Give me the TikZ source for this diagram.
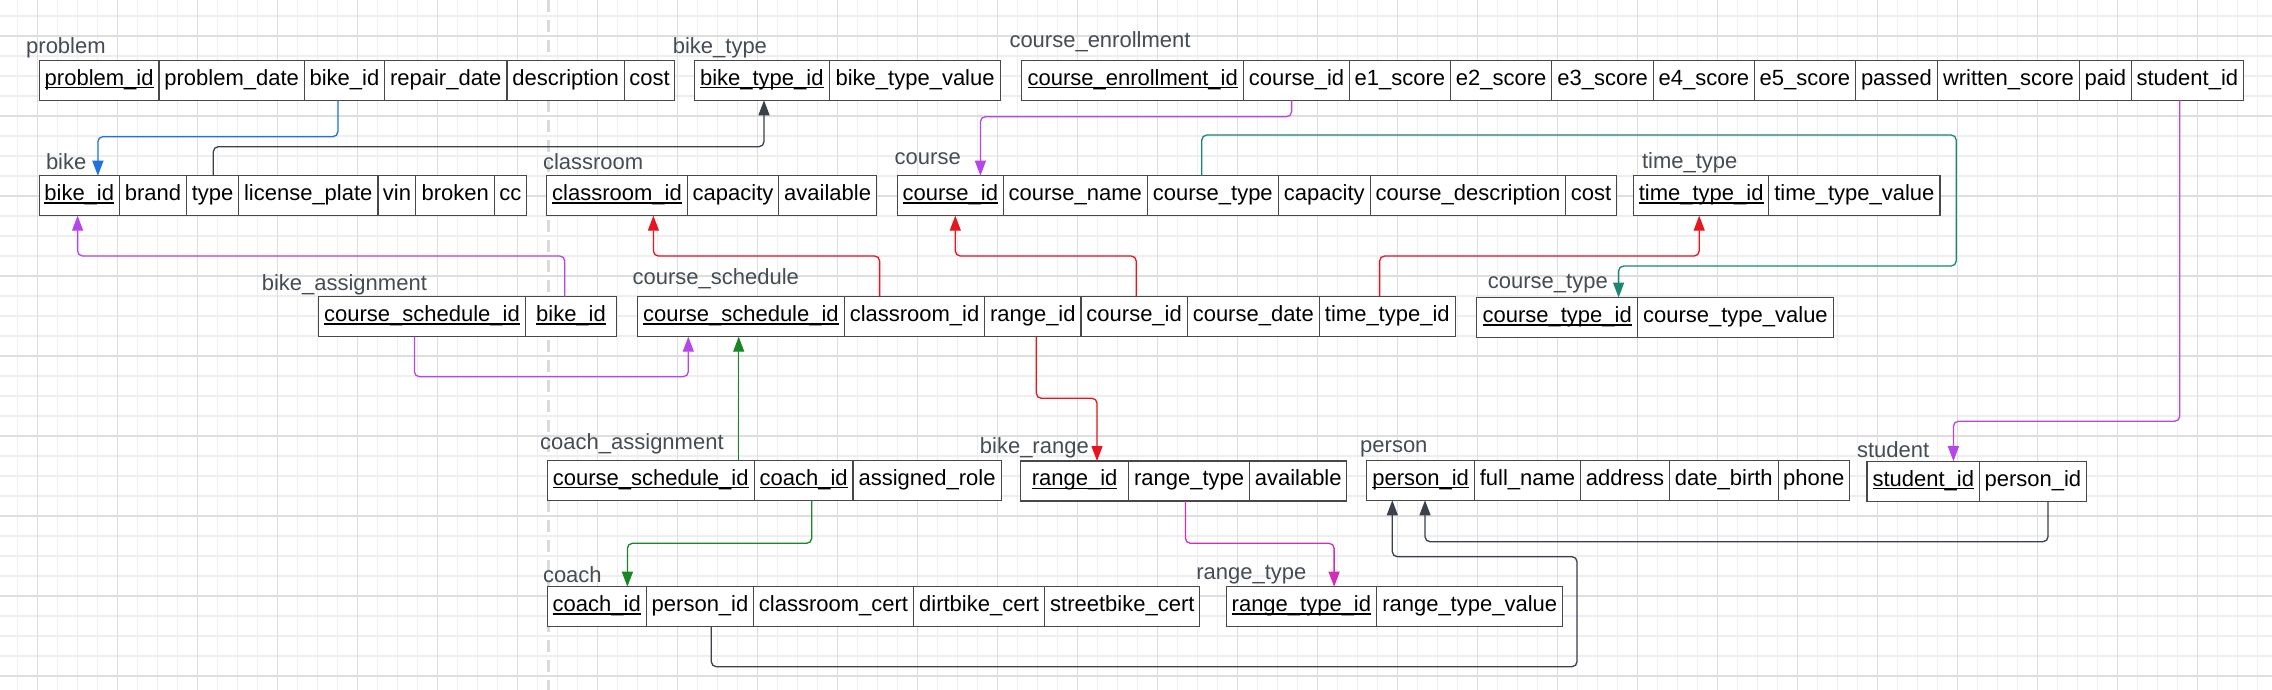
\documentclass[tikz,border=0pt]{standalone}
\usepackage{fontspec}
\setmainfont{Liberation Sans}
\usetikzlibrary{arrows.meta}
\definecolor{gridminor}{RGB}{238,238,238}
\definecolor{gridmajor}{RGB}{222,222,222}
\definecolor{dashgray}{RGB}{218,218,218}
\definecolor{tblborder}{RGB}{72,72,72}
\definecolor{lblgray}{RGB}{70,76,84}
\definecolor{cblue}{RGB}{30,115,225}
\definecolor{cgray}{RGB}{58,65,74}
\definecolor{cpurple}{RGB}{180,70,235}
\definecolor{cteal}{RGB}{25,135,115}
\definecolor{cred}{RGB}{232,20,30}
\definecolor{cgreen}{RGB}{25,135,35}
\definecolor{cmagenta}{RGB}{210,45,180}
\newcommand\bigfont{\fontsize{22pt}{26pt}\selectfont}
\newcommand\pkey[1]{\setbox0=\hbox{#1}\rlap{\rule[-3.2pt]{\wd0}{1.4pt}}\box0}
\newcommand\cellbox[5]{\pgfmathsetmacro\cw{#3-#2}\node[cellst,minimum width=\cw pt,anchor=north west] (#1) at (#2,#4) {#5};}
\tikzset{
  cellst/.style={draw=tblborder, line width=1.1pt, fill=white, minimum height=40pt, inner sep=0pt, outer sep=0pt, text height=15.6pt, text depth=6pt, font=\bigfont, text=black},
  lbl/.style={anchor=base west, inner sep=0pt, outer sep=0pt, font=\bigfont, text=lblgray},
  conn/.style={draw=#1, line width=1.3pt, rounded corners=5pt, -{Triangle[length=15pt,width=11pt]}},
  gridmin/.style={draw=gridminor, line width=1.1pt},
  gridmaj/.style={draw=gridmajor, line width=1.4pt}
}
\begin{document}
\begin{tikzpicture}[x=1pt,y=-1pt]
\useasboundingbox (0,0) rectangle (2272,690);
\fill[white] (0,0) rectangle (2272,690);
% grid
\foreach \k in {0,...,113} {\draw[gridmin] ({17.3+20*\k},0) -- ({17.3+20*\k},690);}
\foreach \k in {0,...,33} {\draw[gridmin] (0,{16+20*\k}) -- (2272,{16+20*\k});}
\foreach \k in {0,...,28} {\draw[gridmaj] ({37.3+80*\k},0) -- ({37.3+80*\k},690);}
\foreach \k in {0,...,8} {\draw[gridmaj] (0,{36+80*\k}) -- (2272,{36+80*\k});}
% dashed divider
\draw[dashgray, line width=3pt, dash pattern=on 12pt off 8pt] (548.5,0) -- (548.5,690);

% labels
\node[lbl] (Lproblem) at (26.2,54) {problem};
\node[lbl] (Lbiketype) at (672.8,54) {bike\_type};
\node[lbl] (Lenroll) at (1009.5,47.5) {course\_enrollment};
\node[lbl] (Lbike) at (46,169.5) {bike};
\node[lbl] (Lclass) at (543,169.5) {classroom};
\node[lbl] (Lcourse) at (894.7,164.8) {course};
\node[lbl] (Ltime) at (1642,168.5) {time\_type};
\node[lbl] (Lbassign) at (261.8,290) {bike\_assignment};
\node[lbl] (Lsched) at (632.6,284.5) {course\_schedule};
\node[lbl] (Lctype) at (1487.9,288.5) {course\_type};
\node[lbl] (Lcassign) at (540.2,449.5) {coach\_assignment};
\node[lbl] (Lrange) at (979.9,453.5) {bike\_range};
\node[lbl] (Lperson) at (1360.2,452.5) {person};
\node[lbl] (Lstudent) at (1857,457.5) {student};
\node[lbl] (Lcoach) at (543,582.5) {coach};
\node[lbl] (Lrtype) at (1196.3,579) {range\_type};

% problem
\cellbox{pb1}{39.3}{159}{60.3}{\pkey{problem\_id}}
\cellbox{pb2}{159}{304.4}{60.3}{problem\_date}
\cellbox{pb3}{304.4}{384.4}{60.3}{bike\_id}
\cellbox{pb4}{384.4}{507}{60.3}{repair\_date}
\cellbox{pb5}{507}{624.3}{60.3}{description}
\cellbox{pb6}{624.3}{674.7}{60.3}{cost}
% bike_type
\cellbox{bt1}{694.2}{829.4}{60.3}{\pkey{bike\_type\_id}}
\cellbox{bt2}{829.4}{1000.8}{60.3}{bike\_type\_value}
% course_enrollment
\cellbox{ce1}{1021.7}{1243.7}{60.3}{\pkey{course\_enrollment\_id}}
\cellbox{ce2}{1243.7}{1349.3}{60.3}{course\_id}
\cellbox{ce3}{1349.3}{1450.5}{60.3}{e1\_score}
\cellbox{ce4}{1450.5}{1551.8}{60.3}{e2\_score}
\cellbox{ce5}{1551.8}{1653.6}{60.3}{e3\_score}
\cellbox{ce6}{1653.6}{1754.3}{60.3}{e4\_score}
\cellbox{ce7}{1754.3}{1855.6}{60.3}{e5\_score}
\cellbox{ce8}{1855.6}{1937.3}{60.3}{passed}
\cellbox{ce9}{1937.3}{2079.5}{60.3}{written\_score}
\cellbox{ce10}{2079.5}{2131.2}{60.3}{paid}
\cellbox{ce11}{2131.2}{2243.5}{60.3}{student\_id}
% bike
\cellbox{bk1}{39.3}{119.2}{175.7}{\pkey{bike\_id}}
\cellbox{bk2}{119.2}{186.6}{175.7}{brand}
\cellbox{bk3}{186.6}{238.5}{175.7}{type}
\cellbox{bk4}{238.5}{378}{175.7}{license\_plate}
\cellbox{bk5}{378}{415.9}{175.7}{vin}
\cellbox{bk6}{415.9}{494.4}{175.7}{broken}
\cellbox{bk7}{494.4}{526.4}{175.7}{cc}
% classroom
\cellbox{cr1}{546.8}{687.2}{175.7}{\pkey{classroom\_id}}
\cellbox{cr2}{687.2}{778.9}{175.7}{capacity}
\cellbox{cr3}{778.9}{876.3}{175.7}{available}
% course
\cellbox{co1}{897.2}{1003.4}{175.7}{\pkey{course\_id}}
\cellbox{co2}{1003.4}{1147.2}{175.7}{course\_name}
\cellbox{co3}{1147.2}{1278.4}{175.7}{course\_type}
\cellbox{co4}{1278.4}{1370.2}{175.7}{capacity}
\cellbox{co5}{1370.2}{1565.7}{175.7}{course\_description}
\cellbox{co6}{1565.7}{1616.4}{175.7}{cost}
% time_type
\cellbox{tt1}{1633.6}{1768.7}{175.7}{\pkey{time\_type\_id}}
\cellbox{tt2}{1768.7}{1940}{175.7}{time\_type\_value}
% bike_assignment
\cellbox{ba1}{318.5}{525.4}{296.7}{\pkey{course\_schedule\_id}}
\cellbox{ba2}{525.4}{616.6}{296.7}{\pkey{bike\_id}}
% course_schedule
\cellbox{cs1}{637.3}{844.5}{296.7}{\pkey{course\_schedule\_id}}
\cellbox{cs2}{844.5}{984.6}{296.7}{classroom\_id}
\cellbox{cs3}{984.6}{1081}{296.7}{range\_id}
\cellbox{cs4}{1081}{1187.3}{296.7}{course\_id}
\cellbox{cs5}{1187.3}{1319.3}{296.7}{course\_date}
\cellbox{cs6}{1319.3}{1455.3}{296.7}{time\_type\_id}
% course_type
\cellbox{ct1}{1476.8}{1637.5}{297.5}{\pkey{course\_type\_id}}
\cellbox{ct2}{1637.5}{1833.3}{297.5}{course\_type\_value}
% coach_assignment
\cellbox{ca1}{547.1}{754.3}{460.3}{\pkey{course\_schedule\_id}}
\cellbox{ca2}{754.3}{853}{460.3}{\pkey{coach\_id}}
\cellbox{ca3}{853}{1001.2}{460.3}{assigned\_role}
% bike_range
\cellbox{br1}{1020.7}{1128.6}{461}{\pkey{range\_id}}
\cellbox{br2}{1128.6}{1249.7}{461}{range\_type}
\cellbox{br3}{1249.7}{1346.7}{461}{available}
% person
\cellbox{pe1}{1366.8}{1474.5}{460.3}{\pkey{person\_id}}
\cellbox{pe2}{1474.5}{1580.4}{460.3}{full\_name}
\cellbox{pe3}{1580.4}{1669.5}{460.3}{address}
\cellbox{pe4}{1669.5}{1778.1}{460.3}{date\_birth}
\cellbox{pe5}{1778.1}{1849.5}{460.3}{phone}
% student
\cellbox{st1}{1867}{1979.5}{461.2}{\pkey{student\_id}}
\cellbox{st2}{1979.5}{2086.3}{461.2}{person\_id}
% coach
\cellbox{cc1}{547.1}{646.4}{586.7}{\pkey{coach\_id}}
\cellbox{cc2}{646.4}{753.7}{586.7}{person\_id}
\cellbox{cc3}{753.7}{913.3}{586.7}{classroom\_cert}
\cellbox{cc4}{913.3}{1044.8}{586.7}{dirtbike\_cert}
\cellbox{cc5}{1044.8}{1199.8}{586.7}{streetbike\_cert}
% range_type
\cellbox{rt1}{1226.2}{1376.6}{586.7}{\pkey{range\_type\_id}}
\cellbox{rt2}{1376.6}{1562.8}{586.7}{range\_type\_value}

% connectors
\draw[conn=cblue] ([xshift=-6.5pt]pb3.south) -- ++(0,36.4) -| ([xshift=18.65pt]bk1.north);
\draw[conn=cgray] ([xshift=0.75pt]bk3.north) -- ++(0,-29) -| ([xshift=2.2pt]bt1.south);
\draw[conn=cpurple] ([xshift=-4.9pt]ce2.south) -- ++(0,16.4) -| ([xshift=30.1pt]co1.north);
\draw[conn=cteal] ([xshift=-11pt]co3.north) -- ++(0,-40.7) -- ++(754.4,0) -- ++(0,131) -| ([xshift=61.45pt]ct1.north);
\draw[conn=cred] ([xshift=-34.95pt]cs2.north) -- ++(0,-40.7) -| ([xshift=36.4pt]cr1.south);
\draw[conn=cred] ([xshift=2.05pt]cs4.north) -- ++(0,-40.7) -| ([xshift=5pt]co1.south);
\draw[conn=cred] ([xshift=-7.7pt]cs6.north) -- ++(0,-40.7) -| ([xshift=-1.95pt]tt1.south);
\draw[conn=cred] ([xshift=3.5pt]cs3.south) -- ++(0,61.6) -| ([xshift=22.35pt]br1.north);
\draw[conn=cpurple] ([xshift=-6.3pt]ba2.north) -- ++(0,-40.7) -| ([xshift=-1.65pt]bk1.south);
\draw[conn=cpurple] ([xshift=-7.55pt]ba1.south) -- ++(0,40) -| ([xshift=-52.6pt]cs1.south);
\draw[conn=cgreen] ([xshift=88pt]ca1.north) -- ([xshift=-2.2pt]cs1.south);
\draw[conn=cgreen] ([xshift=8.05pt]ca2.south) -- ++(0,43) -| ([xshift=30.65pt]cc1.north);
\draw[conn=cmagenta] ([xshift=-3.75pt]br2.south) -- ++(0,42.3) -| ([xshift=32.7pt]rt1.north);
\draw[conn=cpurple] ([xshift=-7.65pt]ce11.south) -- ++(0,321) -| ([xshift=30.15pt]st1.north);
\draw[conn=cgray] ([xshift=15.1pt]st2.south) -- ++(0,40.5) -| ([xshift=4.35pt]pe1.south);
\draw[conn=cgray] ([xshift=11.25pt]cc2.south) -- ++(0,40) -- ++(865.7,0) -- ++(0,-110) -| ([xshift=-28.35pt]pe1.south);
\end{tikzpicture}
\end{document}
